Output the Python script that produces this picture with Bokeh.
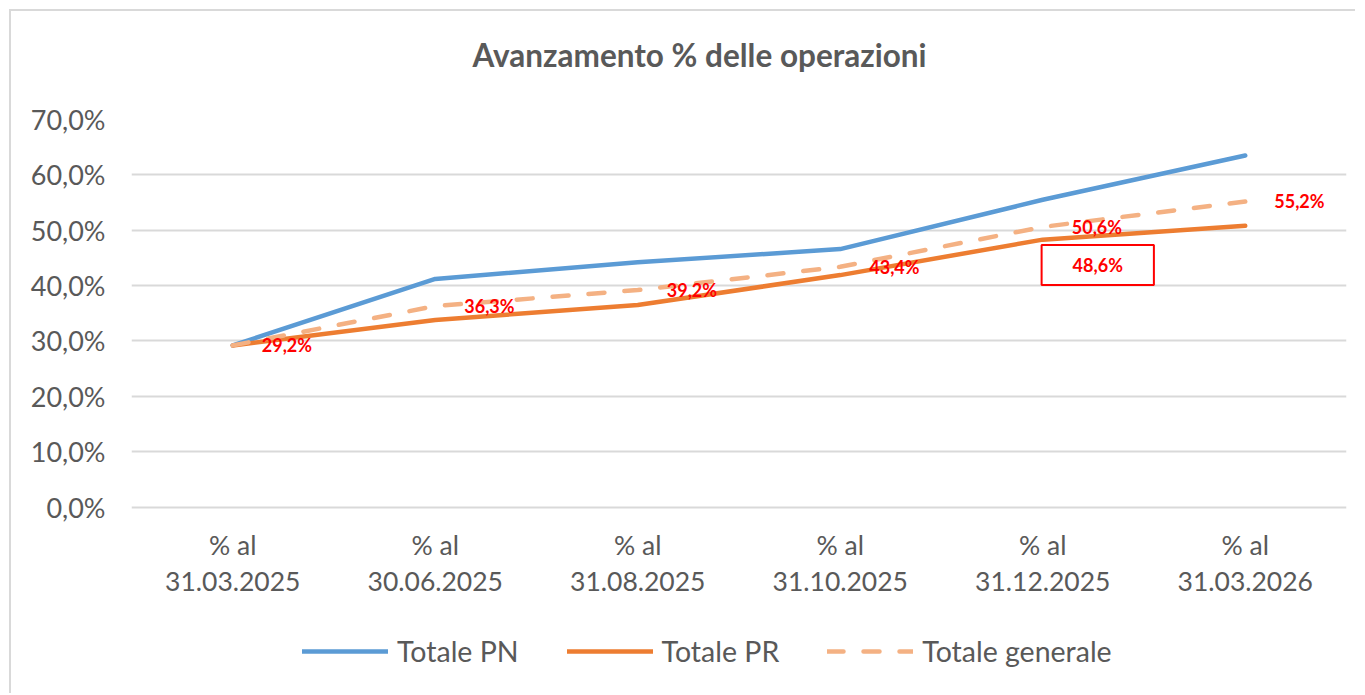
from bokeh.plotting import figure
from bokeh.models import (FactorRange, Range1d, FixedTicker, Legend, LegendItem, Label, Title)
from bokeh.core.properties import value
from bokeh.embed import file_html
from bokeh.resources import INLINE

# ---- data ----
categories = ["31.03.2025", "30.06.2025", "31.08.2025", "31.10.2025", "31.12.2025", "31.03.2026"]
category_prefix = "% al"
totale_pn = [29.2, 41.2, 44.2, 46.6, 55.5, 63.5]
totale_pr = [29.2, 33.8, 36.5, 41.9, 48.3, 50.8]
totale_generale = [29.2, 36.3, 39.2, 43.4, 50.6, 55.2]
generale_labels = ["29,2%", "36,3%", "39,2%", "43,4%", "50,6%", "55,2%"]
box_category = "31.12.2025"
box_value = 48.6
box_label = "48,6%"
y_ticks = [0, 10, 20, 30, 40, 50, 60, 70]
y_tick_labels = ["0,0%", "10,0%", "20,0%", "30,0%", "40,0%", "50,0%", "60,0%", "70,0%"]
series_names = ["Totale PN", "Totale PR", "Totale generale"]
title_text = "Avanzamento % delle operazioni"

# ---- layout (pixels) ----
W, H = 1346, 684
FRAME_TOP, ZERO_PX = 108, 495.6          # pixel rows of 70 % and 0 %
px_per_unit = (ZERO_PX - FRAME_TOP) / 70.0
y_bottom = -(H - ZERO_PX) / px_per_unit  # frame extends down to hold the category labels and legend
FONT = "Lato"
GREY = "#595959"

p = figure(width=W, height=H, title=None,
           x_range=FactorRange(*categories, range_padding=0),
           y_range=Range1d(y_bottom, 70),
           x_axis_location=None,
           output_backend="svg", toolbar_location=None,
           min_border_left=120, min_border_right=11,
           min_border_top=FRAME_TOP, min_border_bottom=0)
p.styles = {"border-top": "2px solid #d9d9d9", "border-left": "2px solid #d9d9d9",
            "margin": "9px 0 0 9px"}

p.outline_line_color = None
p.background_fill_color = "white"
p.border_fill_color = "white"

# title (spacer nearest the frame, then the real title)
p.add_layout(Title(text=" ", text_font_size="1px", standoff=43), "above")
p.add_layout(Title(text=title_text, align="left", offset=341, standoff=0,
                   text_font=FONT, text_font_style="bold", text_font_size="31.5px",
                   text_color=GREY), "above")

# grid
p.xgrid.visible = False
p.ygrid.ticker = FixedTicker(ticks=y_ticks)
p.ygrid.grid_line_color = "#d9d9d9"
p.ygrid.grid_line_width = 2

# y axis
ya = p.yaxis[0]
ya.ticker = FixedTicker(ticks=y_ticks)
ya.major_label_overrides = {t: l for t, l in zip(y_ticks, y_tick_labels)}
ya.axis_line_color = None
ya.major_tick_line_color = None
ya.minor_tick_line_color = None
ya.major_tick_out = 0
ya.major_label_standoff = 26
ya.major_label_text_font = FONT
ya.major_label_text_font_size = "27px"
ya.major_label_text_color = GREY

# category labels (two rows under the 0 % line)
p.text(x=categories, y=[0] * len(categories), text=[category_prefix] * len(categories),
       y_offset=38, text_align="center", text_baseline="middle",
       text_font=value(FONT), text_font_size="26.5px", text_color=GREY)
p.text(x=categories, y=[0] * len(categories), text=categories,
       y_offset=74, text_align="center", text_baseline="middle",
       text_font=value(FONT), text_font_size="26.5px", text_color=GREY)

# lines
r_pn = p.line(categories, totale_pn, line_color="#5b9bd5", line_width=4.5,
              line_join="round", line_cap="round")
r_pr = p.line(categories, totale_pr, line_color="#ed7d31", line_width=4.5,
              line_join="round", line_cap="round")
r_gen = p.line(categories, totale_generale, line_color="#f4b183", line_width=4.5,
               line_dash="16 20", line_join="round", line_cap="round")

# data labels
p.text(x=categories, y=totale_generale, text=generale_labels,
       x_offset=29, text_align="left", text_baseline="middle",
       text_font=value(FONT), text_font_style="bold", text_font_size="18px",
       text_color="#ff0000")

box = Label(x=categories.index(box_category) + 0.5, y=box_value,
            x_offset=55, y_offset=-27, text=box_label,
            text_align="center", text_baseline="middle",
            text_font=FONT, text_font_style="bold", text_font_size="18px",
            text_color="#ff0000", border_line_color="#ff0000", border_line_width=2,
            background_fill_color="white", padding=(31, 9))
p.add_layout(box)

# legend
legend = Legend(items=[LegendItem(label=series_names[0], renderers=[r_pn]),
                       LegendItem(label=series_names[1], renderers=[r_pr]),
                       LegendItem(label=series_names[2], renderers=[r_gen])],
                orientation="horizontal", location=(171, 27),
                glyph_width=86, glyph_height=24, label_standoff=9, spacing=48,
                padding=0, margin=0, border_line_alpha=0, background_fill_alpha=0,
                label_text_font=FONT, label_text_font_size="28.5px",
                label_text_color=GREY)
p.add_layout(legend, "center")

open("out.html", "w").write(file_html(p, INLINE))
